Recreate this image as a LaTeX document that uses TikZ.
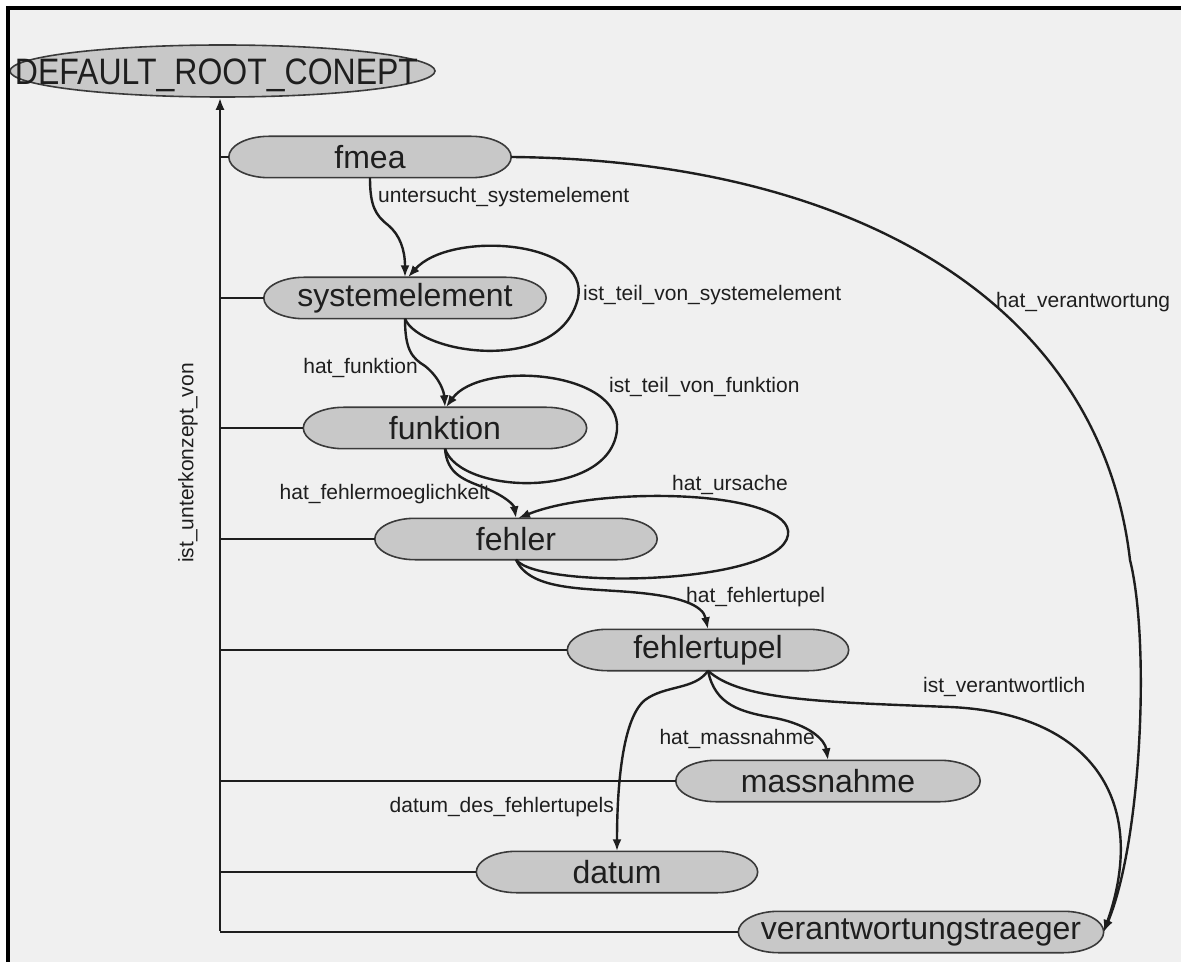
\documentclass[tikz,border=0pt]{standalone}
\usepackage{fontspec}
\setmainfont{Liberation Sans}
\usetikzlibrary{arrows.meta,shapes.geometric}
\definecolor{bg}{HTML}{F0F0F0}
\definecolor{nodefill}{HTML}{C8C8C8}
\definecolor{ink}{HTML}{1E1E1E}
\definecolor{rim}{HTML}{3A3A3A}

\tikzset{
  conceptbox/.style={rectangle, minimum height=41pt, inner sep=0pt, draw=none},
  capsule/.style={draw=rim, line width=1.6pt, fill=nodefill},
  rootconcept/.style={draw=rim, line width=1.6pt, fill=nodefill, ellipse,
    minimum height=52pt, inner sep=0pt},
  nodetext/.style={font=\fontsize{32}{32}\selectfont, text=ink, inner sep=0pt},
  edgelabel/.style={font=\fontsize{21}{21}\selectfont, text=ink, inner sep=0pt},
  edge/.style={draw=ink, line width=2.4pt, -{Latex[length=12pt,width=9pt]}},
  link/.style={draw=ink, line width=2.4pt},
}

% a concept: flat top and bottom with half-elliptic ends
\newcommand\conceptnode[4]{%
  \node[conceptbox, minimum width=#3] (#1) at (#2) {};
  \path[capsule] ([xshift=40pt]#1.north west) -- ([xshift=-40pt]#1.north east)
    .. controls ([xshift=-18pt]#1.north east) and ([yshift=11.3pt]#1.east) .. (#1.east)
    .. controls ([yshift=-11.3pt]#1.east) and ([xshift=-18pt]#1.south east) .. ([xshift=-40pt]#1.south east)
    -- ([xshift=40pt]#1.south west)
    .. controls ([xshift=18pt]#1.south west) and ([yshift=-11.3pt]#1.west) .. (#1.west)
    .. controls ([yshift=11.3pt]#1.west) and ([xshift=18pt]#1.north west) .. cycle;
  \node[nodetext] (#1-text) at (#1) {#4};
}

\begin{document}
\begin{tikzpicture}[x=1pt,y=-1pt]
\useasboundingbox (0,0) rectangle (1181,965);
% page background
\fill[white] (0,0) rectangle (1181,965);
\fill[bg] (8,8) rectangle (1181,962);

% concepts
\node[rootconcept, minimum width=425pt] (root) at (222.5,71) {};
\node[nodetext, anchor=base] (root-text) at (216.5,85) {\scalebox{1}[1.15]{DEFAULT\_ROOT\_CONEPT}};
\conceptnode{fmea}{370,157}{282pt}{fmea}
\conceptnode{sys}{405,298}{282pt}{systemelement}
\conceptnode{funk}{445,428}{283pt}{funktion}
\conceptnode{fehler}{516,539}{282pt}{fehler}
\conceptnode{ftup}{708,650}{281pt}{fehlertupel}
\conceptnode{mass}{828,781}{304pt}{massnahme}
\conceptnode{datum}{617,872}{281pt}{datum}
\conceptnode{vt}{921,932}{365pt}{verantwortungstraeger}

% subconcept hierarchy: trunk and branches
\coordinate (trunkbot) at (220,931);
\draw[edge] (trunkbot) -- (trunkbot |- root.south);
\foreach \n in {fmea,sys,funk,fehler,ftup,mass,datum,vt}
  \draw[link] (trunkbot |- \n.west) -- (\n.west);
\node[edgelabel, rotate=90] (sublabel) at (188,463) {ist\_unterkonzept\_von};

% relations
\draw[edge] (fmea.south) .. controls (370,205) and (375,215) .. (388,225)
  .. controls (400,235) and (405,250) .. (sys.north);
\node[edgelabel, anchor=mid west] (l1) at (378,200) {untersucht\_systemelement};

\draw[edge] (sys.south) .. controls (420,355) and (560,375) .. (578,298)
  .. controls (590,240) and (450,230) .. ([xshift=3pt]sys.north);
\node[edgelabel, anchor=mid west] (l2) at (583,298) {ist\_teil\_von\_systemelement};

\draw[edge] (sys.south) .. controls (405,350) and (412,358) .. (425,366)
  .. controls (440,378) and (444,392) .. (funk.north);
\node[edgelabel, anchor=mid east] (l3) at (418,371) {hat\_funktion};

\draw[edge] (funk.south) .. controls (460,495) and (610,500) .. (617,430)
  .. controls (622,370) and (480,360) .. ([xshift=1pt]funk.north);
\node[edgelabel, anchor=mid west] (l4) at (609,390) {ist\_teil\_von\_funktion};

\draw[edge] (funk.south) .. controls (447,475) and (465,480) .. (485,488)
  .. controls (505,496) and (514,505) .. (fehler.north);
\node[edgelabel, anchor=mid east] (l5) at (490,497) {hat\_fehlermoeglichkeit};

\draw[edge] (fehler.south) .. controls (540,590) and (780,585) .. (788,535)
  .. controls (795,490) and (600,485) .. ([xshift=2pt]fehler.north);
\node[edgelabel, anchor=mid west] (l6) at (672,488) {hat\_ursache};

\draw[edge] (fehler.south) .. controls (530,590) and (580,588) .. (630,592)
  .. controls (680,596) and (703,605) .. (ftup.north);
\node[edgelabel, anchor=mid west] (l7) at (686,600) {hat\_fehlertupel};

\draw[edge] (ftup.south) .. controls (715,705) and (740,712) .. (775,718)
  .. controls (810,725) and (825,740) .. (mass.north);
\node[edgelabel, anchor=mid east] (l8) at (815,742) {hat\_massnahme};

\draw[edge] (ftup.south) .. controls (695,690) and (665,685) .. (645,700)
  .. controls (620,720) and (617,800) .. (datum.north);
\node[edgelabel, anchor=mid east] (l9) at (614,810) {datum\_des\_fehlertupels};

\draw[edge] (ftup.south) .. controls (740,700) and (820,702) .. (950,707)
  .. controls (1090,713) and (1150,800) .. (vt.east);
\node[edgelabel, anchor=mid west] (l10) at (923,690) {ist\_verantwortlich};

\draw[edge] (fmea.east) .. controls (850,160) and (1100,300) .. (1130,560)
  .. controls (1150,640) and (1142,840) .. (vt.east);
\node[edgelabel, anchor=mid west] (l11) at (996,305) {hat\_verantwortung};

% frame edges
\draw[black, line width=4pt] (6,8) -- (1181,8);
\draw[black, line width=4pt] (8,6) -- (8,962);
\end{tikzpicture}
\end{document}
